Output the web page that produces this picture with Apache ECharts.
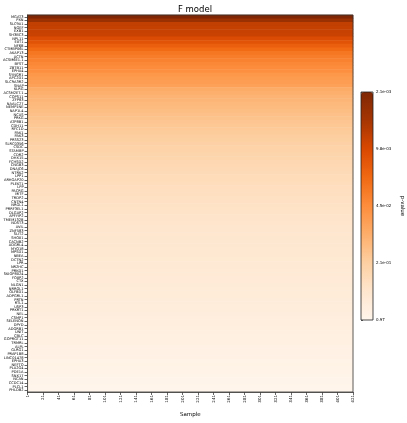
<!DOCTYPE html>
<html>
<head>
<meta charset="utf-8">
<script src="https://cdn.jsdelivr.net/npm/echarts@6/dist/echarts.min.js"></script>
<style>
  html, body { margin: 0; padding: 0; background: #fff; }
  #chart { width: 407px; height: 423px; }
</style>
</head>
<body>
<div id="chart"></div>
<script>
// genes, top to bottom
const genes = [
  'MGAT3', 'PXN', 'SLC9A1', 'NGEF', 'EXB1', 'SH3BC3', 'NPL11', 'EXT1', 'NF6B', 'CTMBP06L',
  'AKAP13', 'ACTN', 'ACSM6E1.1', 'BFST', 'ZBTB11', 'EPHA4', 'SYNGR1', 'APC2D1', 'SLC9A3R2', 'SNAP',
  'KLRG', 'ACSM2ET.1', 'COPS11', 'ZFP83', 'NAALC27', 'NEMP1NE', 'NAP1L4', 'NCAS', 'PRKG', 'ATP8B1',
  'CDH11', 'RFC1D', 'PAK1', 'PAK3', 'PRSS23', 'SLRC0356', 'CSDC', 'STAMBP', 'CDR2', 'DHX15',
  'FCHSD2', 'CNGB3', 'DNAJC6', 'NTRK2', 'LPP1', 'ARHGAP20', 'PLEKT1', 'LPP', 'PACRG', 'MITF',
  'TRDP2', 'CNTN4', 'NRGL1', 'PRRF3EL1', 'DLGAP2', 'APFYIP2', 'TMEM132B', 'NDST3', 'AVIL', 'ZNF583',
  'SLIT2', 'SHOX1', 'CACNB2', 'ADGRL4', 'MYO18', 'MPSD1', 'NBEA', 'DCTN2', 'LPR', 'NR2HC',
  'PRKD1', 'SKIOP8024', 'FOXP2', 'CTX', 'NLGN1', 'NRROL1', 'OLFBD1', 'ADPGRL1', 'PRTN', 'RTL1',
  'USP3', 'PRKRT1', 'NEL', 'CSMP1', 'SELENON', 'DPYD', 'ADGRB1', 'UNIT', 'CBLC', 'GOPRGT11',
  'TRMRL', 'ALPL', 'GLRG1', 'PRAP1B8', 'LINC01478', 'EPHA3', 'NEFTO', 'PLA2G4', 'PDE1A', 'SNX17',
  'NCAN', 'CCDC14', 'PLCL1', 'PHLDB2'
];

// p-value per gene (same for every sample)
const pValues = [
  0.0021, 0.0035, 0.0068, 0.0071, 0.0073, 0.0076, 0.0105, 0.0125, 0.0165, 0.0215,
  0.028, 0.032, 0.036, 0.041, 0.045, 0.048, 0.058, 0.062, 0.066, 0.071,
  0.092, 0.100, 0.108, 0.115, 0.122, 0.130, 0.138, 0.146, 0.155, 0.164,
  0.173, 0.182, 0.191, 0.200, 0.210, 0.220, 0.230, 0.240, 0.250, 0.260,
  0.270, 0.280, 0.290, 0.300, 0.310, 0.320, 0.330, 0.340, 0.350, 0.360,
  0.370, 0.380, 0.390, 0.400, 0.410, 0.418, 0.426, 0.434, 0.442, 0.450,
  0.458, 0.466, 0.474, 0.482, 0.490, 0.498, 0.506, 0.514, 0.522, 0.530,
  0.539, 0.548, 0.557, 0.566, 0.575, 0.584, 0.593, 0.602, 0.611, 0.620,
  0.630, 0.640, 0.650, 0.664, 0.678, 0.692, 0.706, 0.720, 0.735, 0.750,
  0.765, 0.780, 0.795, 0.810, 0.825, 0.840, 0.855, 0.870, 0.885, 0.900,
  0.915, 0.930, 0.950, 0.970
];

const nSamples = 421;
const sampleTickLabels = ['1', '21', '41', '61', '81', '101', '121', '141', '161', '181', '201',
  '221', '241', '261', '281', '301', '321', '341', '361', '381', '401', '421'];
const colorbarTickLabels = ['0.97', '2.1e-01', '4.5e-02', '9.8e-03', '2.1e-03'];
const pMin = 0.0021;
const pMax = 0.97;

// matplotlib "Oranges"
const oranges = ['#fff5eb', '#fee6ce', '#fdd0a2', '#fdae6b', '#fd8d3c', '#f16913', '#d94801', '#a63603', '#7f2704'];

const font = 'DejaVu Sans';
const chart = echarts.init(document.getElementById('chart'));

// each gene is one band across all samples
const heatData = genes.map((g, i) => [0, i, -Math.log10(pValues[i])]);

chart.setOption({
  animation: false,
  textStyle: { fontFamily: font },
  title: {
    text: 'F model',
    left: 190,
    top: 0,
    textAlign: 'center',
    textStyle: { fontFamily: font, fontSize: 8.5, fontWeight: 'normal', color: '#000' }
  },
  grid: [
    { left: 27, top: 15, width: 326, height: 382, show: true, borderColor: '#333', borderWidth: 0.8, backgroundColor: 'transparent', z: 10 },
    { left: 361, top: 92, width: 12, height: 228, show: true, borderColor: '#222', borderWidth: 0.8, backgroundColor: 'transparent', z: 10 }
  ],
  xAxis: [
    { type: 'category', gridIndex: 0, data: ['all'], show: false },
    {
      type: 'value', gridIndex: 0, min: 0, max: nSamples - 1, interval: 20, position: 'bottom',
      name: 'Sample', nameLocation: 'middle', nameGap: 20,
      nameTextStyle: { fontSize: 5.5, color: '#000' },
      axisLine: { show: true, lineStyle: { color: '#000', width: 0.8 } },
      axisTick: { show: true, length: 3, lineStyle: { color: '#000', width: 0.6 } },
      axisLabel: { rotate: 90, fontSize: 4, color: '#000', margin: 3, formatter: v => sampleTickLabels[Math.round(v / 20)] },
      splitLine: { show: false }
    },
    { type: 'value', gridIndex: 1, min: 0, max: 1, show: false }
  ],
  yAxis: [
    {
      type: 'category', gridIndex: 0, data: genes, inverse: true,
      axisLine: { show: true, lineStyle: { color: '#000', width: 0.8 } },
      axisTick: { show: true, alignWithLabel: true, length: 3, lineStyle: { color: '#000', width: 0.6 } },
      axisLabel: { interval: 0, fontSize: 3.6, color: '#000', margin: 4 }
    },
    {
      type: 'value', gridIndex: 1, min: 0, max: 4, interval: 1, position: 'right',
      name: 'p-value', nameLocation: 'middle', nameRotate: -90, nameGap: 26,
      nameTextStyle: { fontSize: 5.5, color: '#000' },
      axisLine: { show: false },
      axisTick: { show: true, length: 2, lineStyle: { color: '#000', width: 0.6 } },
      axisLabel: { fontSize: 4, color: '#000', margin: 3, formatter: v => colorbarTickLabels[v] },
      splitLine: { show: false }
    }
  ],
  visualMap: {
    type: 'continuous',
    seriesIndex: 0,
    dimension: 2,
    min: -Math.log10(pMax),
    max: -Math.log10(pMin),
    inRange: { color: oranges },
    orient: 'vertical',
    left: 361,
    top: 92,
    padding: 0,
    itemWidth: 12,
    itemHeight: 228,
    calculable: false,
    hoverLink: false,
    text: null,
    textStyle: { fontSize: 1, color: 'transparent' }
  },
  series: [{
    type: 'heatmap',
    xAxisIndex: 0,
    yAxisIndex: 0,
    data: heatData,
    progressive: 0,
    emphasis: { disabled: true },
    itemStyle: { borderWidth: 0 }
  }]
});
</script>
</body>
</html>
